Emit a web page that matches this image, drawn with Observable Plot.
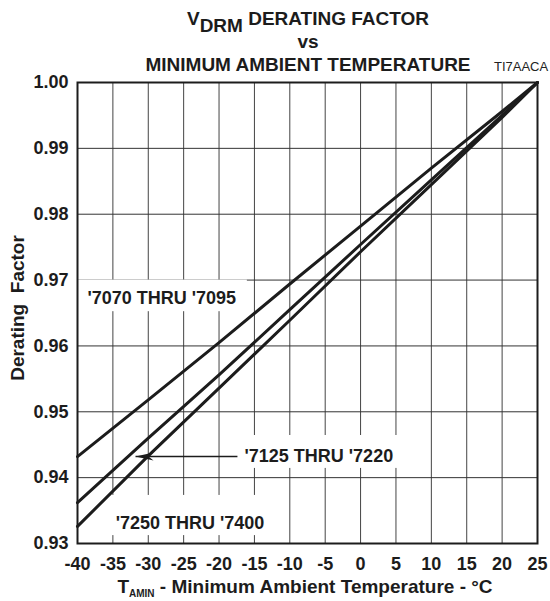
<!DOCTYPE html>
<html>
<head>
<meta charset="utf-8">
<script src="https://cdn.jsdelivr.net/npm/d3@7"></script>
<script src="https://cdn.jsdelivr.net/npm/@observablehq/plot@0.6"></script>
<style>
  body { margin: 0; background: #fff; }
  #chart svg text { font-family: "Liberation Sans", Arial, sans-serif; }
</style>
</head>
<body>
<div id="chart"></div>
<script>
// ---- data ----
const temps   = [-40, -30, -20, -10, 0, 10, 20, 25];
const s7070   = [0.9432, 0.9518, 0.9605, 0.9694, 0.9782, 0.9870, 0.9956, 1.0000];
const s7125   = [0.9362, 0.9460, 0.9556, 0.9655, 0.9754, 0.9852, 0.9950, 1.0000];
const s7250   = [0.9326, 0.9433, 0.9536, 0.9639, 0.9743, 0.9845, 0.9947, 1.0000];
const seriesNames = ["'7070 THRU '7095", "'7125 THRU '7220", "'7250 THRU '7400"];
const xTicks = [-40, -35, -30, -25, -20, -15, -10, -5, 0, 5, 10, 15, 20, 25];
const yTicks = [0.93, 0.94, 0.95, 0.96, 0.97, 0.98, 0.99, 1.00];

// label anchors (text start) and their white boxes, in data units
const labelX = [-38.6, -16.4, -34.6];
const labelY = [0.9672, 0.9433, 0.9331];
const boxX1 = [-40.0, -17.0, -39.6];
const boxX2 = [-16.0, 5.6, -10.6];
const boxY1 = [0.9652, 0.9414, 0.9312];
const boxY2 = [0.9700, 0.9464, 0.9373];
// arrow from '7125 label to its curve
const arrowFrom = [-17.4, 0.9432];
const arrowTo   = [-31.8, 0.9432];

// ---- build tables ----
const rows = [];
[s7070, s7125, s7250].forEach((s, i) =>
  temps.forEach((t, j) => rows.push({series: seriesNames[i], t, f: s[j]})));
const labels = seriesNames.map((name, i) => ({
  name, x: labelX[i], y: labelY[i],
  x1: boxX1[i], x2: boxX2[i], y1: boxY1[i], y2: boxY2[i]
}));

const arrowHead = {
  draw(ctx) {
    ctx.moveTo(0, 0);
    ctx.lineTo(18, -4);
    ctx.lineTo(13, 0);
    ctx.lineTo(18, 4);
    ctx.closePath();
  }
};

const ink = "#1c1c1c";

const plot = Plot.plot({
  width: 550,
  height: 601,
  marginLeft: 77,
  marginRight: 13,
  marginTop: 82,
  marginBottom: 58,
  style: {background: "#fff", color: ink, fontFamily: "'Liberation Sans', Arial, sans-serif"},
  x: {domain: [-40, 25]},
  y: {domain: [0.93, 1.0]},
  marks: [
    Plot.gridX(xTicks, {stroke: "#444", strokeOpacity: 1, strokeWidth: 1}),
    Plot.gridY(yTicks, {stroke: "#333", strokeOpacity: 1, strokeWidth: 1}),
    Plot.rect(labels, {x1: "x1", x2: "x2", y1: "y1", y2: "y2", fill: "#fff"}),
    Plot.line(rows, {x: "t", y: "f", z: "series", stroke: ink, strokeWidth: 3}),
    Plot.text(labels, {x: "x", y: "y", text: "name", textAnchor: "start",
      fontSize: 18, fontWeight: "bold", fill: ink}),
    Plot.link([{x1: arrowFrom[0], y1: arrowFrom[1], x2: arrowTo[0], y2: arrowTo[1]}],
      {x1: "x1", y1: "y1", x2: "x2", y2: "y2", stroke: ink, strokeWidth: 1.6}),
    Plot.dot([{x: arrowTo[0], y: arrowTo[1]}], {x: "x", y: "y", symbol: arrowHead, fill: ink, stroke: "none", r: 4}),
    Plot.frame({stroke: ink, strokeWidth: 2}),
    Plot.axisX(xTicks, {tickSize: 0, tickPadding: 14, fontSize: 18, fontWeight: "bold",
      tickFormat: d => String(d), label: null, fill: ink}),
    Plot.axisY(yTicks, {tickSize: 0, tickPadding: 9, fontSize: 18, fontWeight: "bold",
      tickFormat: d3.format(".2f"), label: null, fill: ink})
  ]
});

document.getElementById("chart").appendChild(plot);

// ---- titles and axis labels ----
const svg = d3.select(plot);
const font = "'Liberation Sans', Arial, sans-serif";

function addText(x, y, parts, opts = {}) {
  const t = svg.append("text")
    .attr("x", x).attr("y", y)
    .attr("text-anchor", opts.anchor || "middle")
    .attr("font-family", font)
    .attr("font-size", opts.size || 19)
    .attr("font-weight", opts.weight || "bold")
    .attr("fill", opts.fill || ink);
  if (opts.transform) t.attr("transform", opts.transform);
  parts.forEach(p => {
    const s = t.append("tspan").text(p.text);
    if (p.size) s.attr("font-size", p.size);
    if (p.dy) s.attr("dy", p.dy);
  });
  return t;
}

addText(308, 25, [
  {text: "V"}, {text: "DRM", dy: 7}, {text: " DERATING FACTOR", dy: -7}
]);
addText(308, 48, [{text: "vs"}]);
addText(308, 71, [{text: "MINIMUM AMBIENT TEMPERATURE"}]);
addText(494, 71, [{text: "TI7AACA"}], {anchor: "start", size: 13, weight: "normal", fill: "#222"});

addText(305, 593, [
  {text: "T"}, {text: "AMIN", size: 10, dy: 4}, {text: " - Minimum Ambient Temperature - °C", dy: -4}
], {size: 19});

addText(0, 0, [{text: "Derating  Factor"}],
  {size: 19, transform: "translate(24,308) rotate(-90)"});
</script>
</body>
</html>
